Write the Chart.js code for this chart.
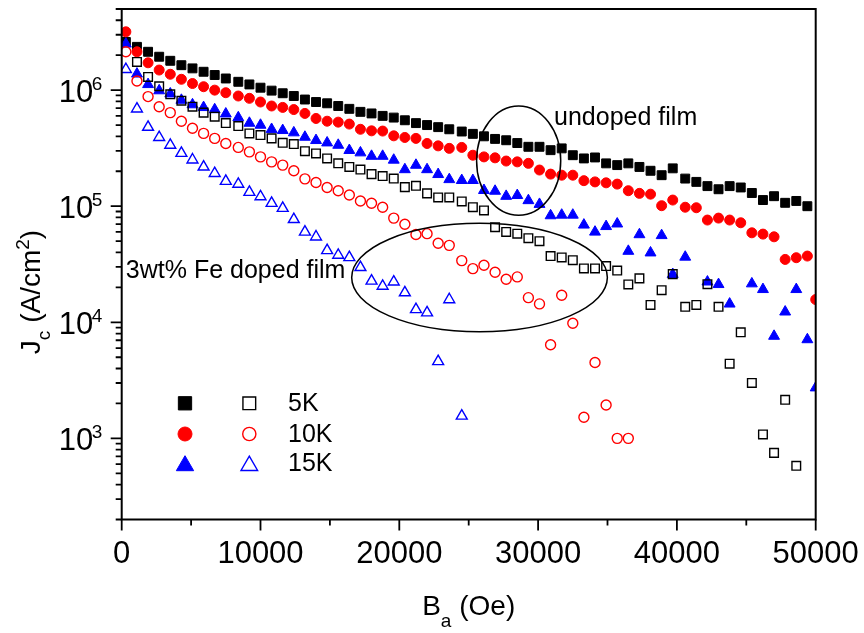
<!DOCTYPE html>
<html>
<head>
<meta charset="utf-8">
<script src="https://cdn.jsdelivr.net/npm/chart.js@4/dist/chart.umd.min.js"></script>
<style>
  html, body { margin: 0; padding: 0; background: #fff; }
  canvas { display: block; }
</style>
</head>
<body>
<canvas id="chart" width="864" height="633"></canvas>
<script>
// applied field (Oe); last entry is the 50000 Oe end point
const fieldOe = [
  300, 1100, 1900, 2700, 3500, 4300, 5100, 5900, 6700, 7500,
  8400, 9200, 10000, 10800, 11600, 12400, 13200, 14000, 14800, 15600,
  16400, 17200, 18000, 18800, 19600, 20400, 21200, 22000, 22800, 23600,
  24500, 25300, 26100, 26900, 27700, 28500, 29300, 30100, 30900, 31700,
  32500, 33300, 34100, 34900, 35700, 36500, 37300, 38100, 38900, 39700,
  40600, 41400, 42200, 43000, 43800, 44600, 45400, 46200, 47000, 47800,
  48600, 49400, 50000
];

// Jc (A/cm2), undoped film
const undoped5K = [
  2.6e6, 2.36e6, 2.14e6, 1.94e6, 1.79e6, 1.64e6, 1.54e6, 1.44e6, 1.35e6, 1.26e6,
  1.18e6, 1.12e6, 1.05e6, 9.9e5, 9.4e5, 8.9e5, 8.3e5, 7.9e5, 7.7e5, 7.3e5,
  6.9e5, 6.5e5, 6.3e5, 6.0e5, 5.8e5, 5.5e5, 5.2e5, 5.0e5, 4.8e5, 4.6e5,
  4.4e5, 4.2e5, 4.0e5, 3.8e5, 3.7e5, 3.5e5, 3.25e5, 3.25e5, 3.04e5, 3.15e5,
  2.75e5, 2.58e5, 2.63e5, 2.34e5, 2.26e5, 2.34e5, 2.18e5, 2.02e5, 1.85e5, 2.12e5,
  1.73e5, 1.62e5, 1.49e5, 1.40e5, 1.49e5, 1.45e5, 1.30e5, 1.13e5, 1.22e5, 1.07e5,
  1.11e5, 1.00e5
];
const undoped10K = [
  3.18e6, 2.14e6, 1.72e6, 1.49e6, 1.37e6, 1.24e6, 1.14e6, 1.07e6, 1.0e6, 9.5e5,
  8.9e5, 8.5e5, 7.9e5, 7.3e5, 7.1e5, 6.8e5, 6.3e5, 5.7e5, 5.4e5, 5.3e5,
  5.1e5, 4.6e5, 4.46e5, 4.44e5, 4.04e5, 3.91e5, 3.84e5, 3.47e5, 3.31e5, 3.15e5,
  3.21e5, 2.75e5, 2.66e5, 2.61e5, 2.45e5, 2.41e5, 2.34e5, 2.05e5, 1.89e5, 1.85e5,
  1.85e5, 1.66e5, 1.62e5, 1.59e5, 1.55e5, 1.36e5, 1.29e5, 1.27e5, 1.01e5, 1.13e5,
  9.8e4, 9.7e4, 7.6e4, 7.9e4, 7.6e4, 7.2e4, 5.9e4, 5.75e4, 5.45e4, 3.48e4,
  3.6e4, 3.72e4, 1.57e4
];
const undoped15K = [
  2.5e6, 1.38e6, 1.12e6, 9.9e5, 9.3e5, 8.2e5, 7.5e5, 7.1e5, 6.8e5, 6.25e5,
  5.8e5, 5.2e5, 5.0e5, 4.6e5, 4.5e5, 4.3e5, 3.94e5, 3.69e5, 3.52e5, 3.36e5,
  3.03e5, 2.89e5, 2.70e5, 2.70e5, 2.50e5, 2.07e5, 2.26e5, 2.07e5, 1.88e5, 1.70e5,
  1.67e5, 1.67e5, 1.37e5, 1.35e5, 1.22e5, 1.24e5, 1.12e5, 1.04e5, 8.3e4, 8.4e4,
  8.4e4, 6.9e4, 6.0e4, 6.7e4, 7.05e4, 4.1e4, 5.7e4, 3.97e4, 5.6e4, 2.59e4,
  3.65e4, null, 2.23e4, 2.12e4, 1.44e4, null, 2.15e4, 1.92e4, 7.6e3, 1.23e4,
  1.92e4, 7.1e3, 2.73e3
];

// Jc (A/cm2), 3wt% Fe doped film
const doped5K = [
  null, 1.75e6, 1.30e6, 1.08e6, 9.2e5, 8.1e5, 7.2e5, 6.4e5, 5.9e5, 5.2e5,
  4.9e5, 4.24e5, 4.1e5, 3.84e5, 3.52e5, 3.43e5, 2.98e5, 2.85e5, 2.58e5, 2.34e5,
  2.18e5, 2.07e5, 1.89e5, 1.82e5, 1.73e5, 1.46e5, 1.50e5, 1.29e5, 1.19e5, 1.19e5,
  1.10e5, 9.8e4, 9.2e4, 6.6e4, 6.0e4, 5.8e4, 5.3e4, 5.0e4, 3.72e4, 3.62e4,
  3.43e4, 2.91e4, 2.91e4, 3.05e4, 2.79e4, 2.12e4, 2.39e4, 1.41e4, 1.89e4, 2.60e4,
  1.36e4, 1.41e4, 2.13e4, 1.36e4, 4.4e3, 8.2e3, 3.0e3, 1.08e3, 7.5e2, 2.15e3,
  5.8e2
];
const doped10K = [
  2.14e6, 1.20e6, 8.8e5, 7.2e5, 6.4e5, 5.4e5, 4.7e5, 4.24e5, 3.84e5, 3.47e5,
  3.21e5, 2.94e5, 2.66e5, 2.41e5, 2.26e5, 2.02e5, 1.72e5, 1.60e5, 1.45e5, 1.36e5,
  1.25e5, 1.11e5, 1.06e5, 9.8e4, 7.9e4, 7.0e4, 5.7e4, 5.8e4, 4.8e4, 4.6e4,
  3.4e4, 2.9e4, 3.1e4, 2.7e4, 2.35e4, 2.46e4, 1.63e4, 1.44e4, 6.4e3, 1.71e4,
  9.8e3, 1.52e3, 4.5e3, 1.94e3, 1.0e3, 1.0e3
];
const doped15K = [
  1.51e6, 6.9e5, 4.8e5, 3.92e5, 3.36e5, 2.86e5, 2.51e5, 2.18e5, 1.92e5, 1.64e5,
  1.55e5, 1.32e5, 1.21e5, 1.06e5, 9.6e4, 7.7e4, 6.0e4, 5.45e4, 4.16e4, 3.79e4,
  3.62e4, 2.97e4, 2.27e4, 2.05e4, 2.23e4, 1.80e4, 1.29e4, 1.21e4, 4.6e3, 1.57e4,
  1.56e3
];

// axes
const xMajorTicks = [0, 10000, 20000, 30000, 40000, 50000];
const xMinorTicks = [5000, 15000, 25000, 35000, 45000];
const yDecades = [3, 4, 5, 6];
const legendRows = ['5K', '10K', '15K'];

const FONT = '"Liberation Sans", Arial, Helvetica, sans-serif';

function points(ys) {
  const pts = [];
  ys.forEach((v, i) => { if (v !== null) pts.push({ x: fieldOe[i], y: v }); });
  return pts;
}

function drawMarker(ctx, style, x, y, r, fill, stroke, lw) {
  ctx.beginPath();
  if (style === 'rect') {
    const s = r * Math.SQRT1_2;
    ctx.rect(x - s, y - s, 2 * s, 2 * s);
  } else if (style === 'circle') {
    ctx.arc(x, y, r, 0, Math.PI * 2);
  } else {
    const h = r * Math.sin(Math.PI / 3);
    ctx.moveTo(x, y - r);
    ctx.lineTo(x + h, y + r / 2);
    ctx.lineTo(x - h, y + r / 2);
    ctx.closePath();
  }
  if (fill) { ctx.fillStyle = fill; ctx.fill(); }
  ctx.lineWidth = lw;
  ctx.strokeStyle = stroke;
  ctx.stroke();
}

// draws [{t, size, dy}] pieces one after another, centred on x
function drawParts(ctx, parts, x, y) {
  let total = 0;
  parts.forEach(p => { ctx.font = p.size + 'px ' + FONT; p.w = ctx.measureText(p.t).width; total += p.w; });
  let cx = x - total / 2;
  ctx.textAlign = 'left';
  ctx.textBaseline = 'alphabetic';
  parts.forEach(p => {
    ctx.font = p.size + 'px ' + FONT;
    ctx.fillText(p.t, cx, y + (p.dy || 0));
    cx += p.w;
  });
}

const frame = {
  id: 'frame',
  afterDatasetsDraw(chart) {
    const { ctx, chartArea: a, scales: { x, y } } = chart;
    ctx.save();
    ctx.strokeStyle = '#000';
    ctx.fillStyle = '#000';
    ctx.lineWidth = 2;
    ctx.strokeRect(a.left, a.top, a.right - a.left, a.bottom - a.top);

    ctx.lineWidth = 1.8;
    ctx.beginPath();
    xMajorTicks.forEach(v => { const p = x.getPixelForValue(v); ctx.moveTo(p, a.bottom); ctx.lineTo(p, a.bottom + 11); });
    xMinorTicks.forEach(v => { const p = x.getPixelForValue(v); ctx.moveTo(p, a.bottom); ctx.lineTo(p, a.bottom + 6); });
    for (let e = 2; e <= 6; e++) {
      for (let m = 1; m <= 9; m++) {
        const v = m * Math.pow(10, e);
        if (v < y.min || v > y.max) continue;
        const p = y.getPixelForValue(v);
        ctx.moveTo(a.left, p);
        ctx.lineTo(a.left - (m === 1 ? 11 : 6), p);
      }
    }
    ctx.stroke();

    // tick labels
    ctx.font = '31px ' + FONT;
    ctx.textAlign = 'center';
    ctx.textBaseline = 'alphabetic';
    xMajorTicks.forEach(v => ctx.fillText(String(v), x.getPixelForValue(v), a.bottom + 43));
    yDecades.forEach(e => {
      const p = y.getPixelForValue(Math.pow(10, e));
      ctx.font = '31px ' + FONT;
      ctx.textAlign = 'right';
      ctx.fillText('10', a.left - 28.5, p + 11.7);
      ctx.font = '19px ' + FONT;
      ctx.textAlign = 'left';
      ctx.fillText(String(e), a.left - 30, p);
    });

    // axis titles
    drawParts(ctx, [
      { t: 'B', size: 28 }, { t: 'a', size: 19, dy: 12 }, { t: ' (Oe)', size: 28 }
    ], (a.left + a.right) / 2, 615);
    ctx.save();
    ctx.translate(40, 292);
    ctx.rotate(-Math.PI / 2);
    drawParts(ctx, [
      { t: 'J', size: 28 }, { t: 'c', size: 19, dy: 10 }, { t: ' (A/cm', size: 28 },
      { t: '2', size: 19, dy: -11 }, { t: ')', size: 28 }
    ], 0, 0);
    ctx.restore();
    ctx.restore();
  },
  afterDraw(chart) {
    const { ctx, scales: { x, y } } = chart;
    ctx.save();
    // ellipses around the two groups
    ctx.strokeStyle = '#000';
    ctx.lineWidth = 1.5;
    [
      { cx: 28600, cy: 2.47e5, rx: 3030, dec: 0.471 },
      { cx: 25780, cy: 2.43e4, rx: 9210, dec: 0.467 }
    ].forEach(el => {
      const px = x.getPixelForValue(el.cx), py = y.getPixelForValue(el.cy);
      const rx = x.getPixelForValue(el.cx + el.rx) - px;
      const ry = py - y.getPixelForValue(el.cy * Math.pow(10, el.dec));
      ctx.beginPath();
      ctx.ellipse(px, py, rx, ry, 0, 0, Math.PI * 2);
      ctx.stroke();
    });

    ctx.fillStyle = '#000';
    ctx.font = '25px ' + FONT;
    ctx.textAlign = 'left';
    ctx.textBaseline = 'alphabetic';
    ctx.fillText('undoped film', x.getPixelForValue(31150), y.getPixelForValue(5.05e5));
    ctx.fillText('3wt% Fe doped film', x.getPixelForValue(300), y.getPixelForValue(2.39e4));

    // legend: filled = undoped, open = doped
    const rowsY = [403.3, 434, 463.3];
    const styles = [
      { s: 'rect', c: '#000000', r: 9.4, dy: 0 },
      { s: 'circle', c: '#ff0000', r: 7, dy: 0 },
      { s: 'triangle', c: '#0000ff', r: 10, dy: 2.4 }
    ];
    legendRows.forEach((label, i) => {
      const st = styles[i];
      drawMarker(ctx, st.s, 185, rowsY[i] + st.dy, st.r, st.c, st.c, 1);
      drawMarker(ctx, st.s, 249.3, rowsY[i] + st.dy, st.r - 0.4, null, st.c, 1.4);
      ctx.fillStyle = '#000';
      ctx.font = '25px ' + FONT;
      ctx.textBaseline = 'middle';
      ctx.fillText(label, 288, rowsY[i] + 1);
    });
    ctx.restore();
  }
};

function dataset(label, ys, style, color, radius, filled) {
  return {
    label: label,
    data: points(ys),
    showLine: false,
    pointStyle: style,
    pointRadius: radius,
    pointBackgroundColor: filled ? color : 'rgba(0,0,0,0)',
    pointBorderColor: color,
    pointBorderWidth: filled ? 1 : 1.4,
    clip: 0
  };
}

new Chart(document.getElementById('chart'), {
  type: 'scatter',
  data: {
    // first dataset is drawn on top
    datasets: [
      dataset('15K doped', doped15K, 'triangle', '#0000ff', 6.3, false),
      dataset('10K doped', doped10K, 'circle', '#ff0000', 5, false),
      dataset('5K doped', doped5K, 'rect', '#000000', 6.1, false),
      dataset('15K', undoped15K, 'triangle', '#0000ff', 6.3, true),
      dataset('10K', undoped10K, 'circle', '#ff0000', 5, true),
      dataset('5K', undoped5K, 'rect', '#000000', 6.3, true)
    ]
  },
  options: {
    responsive: false,
    animation: false,
    events: [],
    layout: { padding: { left: 121.7, top: 9, right: 48.3, bottom: 113.5 } },
    plugins: { legend: { display: false }, tooltip: { enabled: false } },
    scales: {
      x: { type: 'linear', min: 0, max: 50000, display: false },
      y: { type: 'logarithmic', min: 200, max: 5e6, display: false }
    }
  },
  plugins: [frame]
});
</script>
</body>
</html>
